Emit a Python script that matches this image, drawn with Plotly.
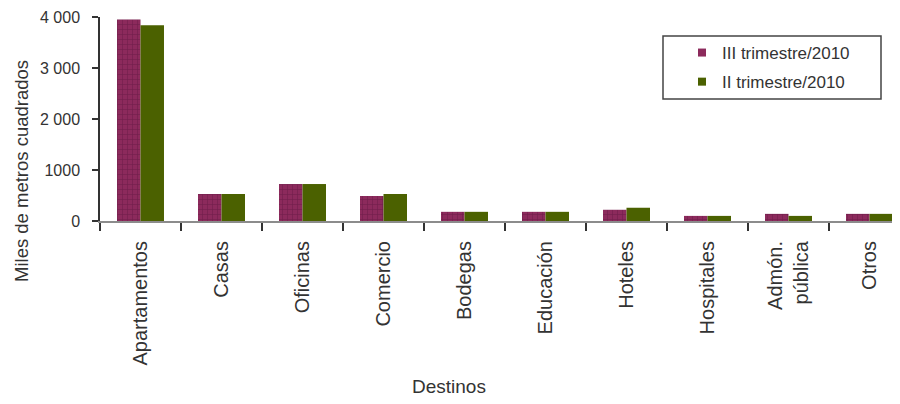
import plotly.graph_objects as go

categories = ["Apartamentos", "Casas", "Oficinas", "Comercio", "Bodegas",
              "Educación", "Hoteles", "Hospitales", "Admón.<br>pública", "Otros"]
serie_iii = [3950, 530, 725, 490, 180, 180, 220, 100, 140, 140]
serie_ii = [3840, 530, 725, 530, 180, 180, 260, 100, 100, 140]
name_iii = "III trimestre/2010"
name_ii = "II trimestre/2010"
y_tickvals = [0, 1000, 2000, 3000, 4000]
y_ticktext = ["0", "1000", "2 000", "3 000", "4 000"]

MAG = "#8c2a5c"
MAG_DARK = "#55123a"
GREEN = "#4b6100"
FONT = "Liberation Sans, Arial, sans-serif"
TXT = "#333333"

# page offset: the browser body has an 8px margin
OFF = 8
W, H = 900 - OFF, 404 - OFF
PL, PR, PT, PB = 100, 900, 17, 221  # plot area in page pixels


def px(x):
    return (x - PL) / (PR - PL)


def py(y):
    return (PB - y) / (PB - PT)


fig = go.Figure()
fig.add_trace(go.Bar(
    x=categories, y=serie_iii, name=name_iii, showlegend=False,
    marker=dict(color=MAG, line=dict(width=0),
                pattern=dict(shape="+", fgcolor=MAG_DARK, size=5, solidity=0.22)),
))
fig.add_trace(go.Bar(
    x=categories, y=serie_ii, name=name_ii, showlegend=False,
    marker=dict(color=GREEN, line=dict(width=0)),
))
# legend entries
fig.add_trace(go.Scatter(x=[None], y=[None], mode="markers", name=name_iii,
                         legendgroup="a",
                         marker=dict(symbol="square", size=8, color=MAG)))
fig.add_trace(go.Scatter(x=[None], y=[None], mode="markers", name=name_ii,
                         legendgroup="b",
                         marker=dict(symbol="square", size=8, color=GREEN)))

fig.update_layout(
    width=W, height=H,
    margin=dict(l=PL - OFF, r=0, t=PT - OFF, b=H - (PB - OFF), autoexpand=False),
    paper_bgcolor="white", plot_bgcolor="white",
    font=dict(family=FONT, color=TXT),
    barmode="group", bargap=0.42, bargroupgap=0,
    showlegend=True,
    legend=dict(x=px(682), y=py(35), xanchor="left", yanchor="top",
                font=dict(family=FONT, size=17, color=TXT),
                bgcolor="rgba(0,0,0,0)", borderwidth=0,
                tracegroupgap=4, itemwidth=30),
    shapes=[dict(type="rect", xref="paper", yref="paper",
                 x0=px(663), x1=px(881), y0=py(99), y1=py(36),
                 line=dict(color="#444444", width=1.5), fillcolor="rgba(0,0,0,0)")],
    annotations=[
        dict(text="Miles de metros cuadrados", xref="paper", yref="paper",
             x=px(21), y=py(171), textangle=-90,
             showarrow=False, xanchor="center", yanchor="middle",
             font=dict(family=FONT, size=18.5, color=TXT)),
        dict(text="Destinos", xref="paper", yref="paper",
             x=px(449), y=py(386),
             showarrow=False, xanchor="center", yanchor="middle",
             font=dict(family=FONT, size=19, color=TXT)),
    ],
)
fig.update_xaxes(
    range=[-0.5, -0.5 + 800 / 81], showgrid=False, automargin=False,
    showline=True, linecolor="#8c8c8c", linewidth=2,
    ticks="outside", tickson="boundaries", ticklen=8, tickwidth=2, tickcolor="#333333",
    tickangle=-90, tickfont=dict(family=FONT, size=20, color=TXT),
    ticklabelstandoff=10,
)
fig.update_yaxes(
    range=[0, 4000], showgrid=False, zeroline=False, automargin=False,
    showline=True, linecolor="#333333", linewidth=1.5,
    ticks="outside", ticklen=6, tickwidth=1.5, tickcolor="#333333",
    tickvals=y_tickvals, ticktext=y_ticktext,
    tickfont=dict(family=FONT, size=16, color=TXT),
    ticklabelstandoff=9,
)
fig.write_html("out.html")
